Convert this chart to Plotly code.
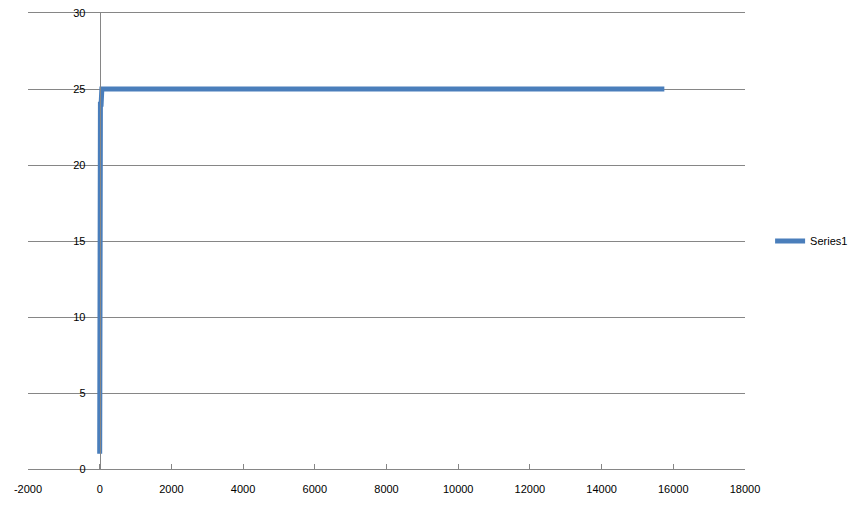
import plotly.graph_objects as go

# Data
series_name = "Series1"
x_values = [0, 0, 10, 20, 40, 60, 15750]
y_values = [1, 22, 23.5, 24, 24, 25, 25]

x_tick_vals = [-2000, 0, 2000, 4000, 6000, 8000, 10000, 12000, 14000, 16000, 18000]
x_tick_text = ["-2000", "0", "2000", "4000", "6000", "8000", "10000", "12000", "14000", "16000", "18000"]
y_tick_vals = [0, 5, 10, 15, 20, 25, 30]
y_tick_text = ["0", "5", "10", "15", "20", "25", "30"]

grid = "#868686"
font = dict(family="Liberation Sans, Arial, sans-serif", size=11, color="#000000")

fig = go.Figure()
fig.add_trace(go.Scatter(
    x=x_values, y=y_values, mode="lines", name=series_name,
    line=dict(color="#4A7EBB", width=5),
))

fig.update_layout(
    width=858, height=510,
    margin=dict(l=28, r=113, t=13, b=41, autoexpand=False),
    paper_bgcolor="white", plot_bgcolor="white",
    font=font,
    showlegend=True,
    legend=dict(x=1.035, y=0.5, xanchor="left", yanchor="middle",
                font=dict(size=11), itemwidth=30, tracegroupgap=0,
                bgcolor="rgba(0,0,0,0)"),
    xaxis=dict(
        range=[-2000, 18000], tickvals=x_tick_vals, ticktext=x_tick_text,
        showgrid=False, zeroline=False, automargin=False,
        showline=True, mirror=True, linecolor=grid, linewidth=1,
        ticks="inside", ticklen=5, tickcolor=grid, tickwidth=1,
        ticklabelstandoff=10,
        tickfont=font,
    ),
    yaxis=dict(
        range=[0, 30], tickvals=y_tick_vals, ticktext=y_tick_text,
        showgrid=True, gridcolor=grid, gridwidth=1,
        zeroline=False, automargin=False,
        showline=True, linecolor=grid, linewidth=1,
        anchor="free", position=0.1,
        ticks="", ticklabelstandoff=12,
        tickfont=font,
    ),
)

fig.write_html(
    "out.html",
    config={"displayModeBar": False},
    post_script="document.body.style.margin='0';document.body.style.overflow='hidden';",
)
